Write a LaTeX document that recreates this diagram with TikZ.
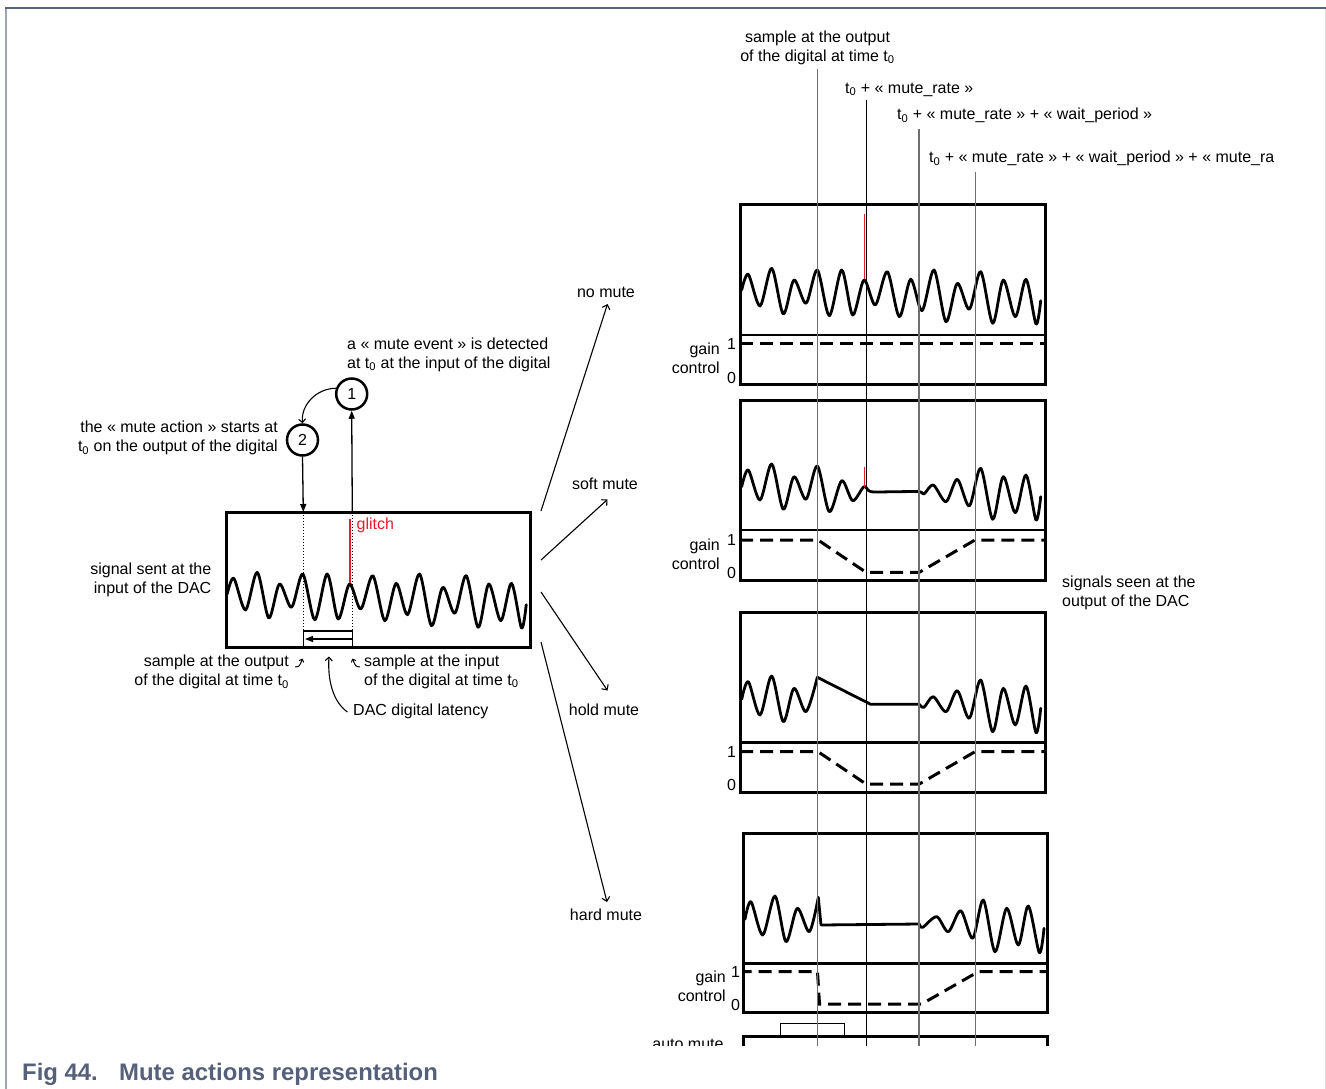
\documentclass[tikz,border=0pt]{standalone}
\usepackage{fontspec}
\setmainfont{Liberation Sans}
\usetikzlibrary{arrows.meta}
\definecolor{capblue}{RGB}{85,97,122}
\definecolor{frametop}{RGB}{86,100,127}
\definecolor{frameleft}{RGB}{155,165,182}
\definecolor{frameright}{RGB}{220,220,220}
\definecolor{glitchred}{RGB}{230,30,40}
\definecolor{tgray}{RGB}{110,110,110}
\begin{document}
\begin{tikzpicture}[x=1pt,y=-1pt,
  txt/.style={inner sep=0pt, font=\fontsize{16}{19}\selectfont},
  boxline/.style={line width=3pt},
  sig/.style={line width=2.8pt, line join=round, line cap=round},
  gainline/.style={line width=3pt, dash pattern=on 13pt off 7pt},
  branch/.style={line width=1.1pt, -{Straight Barb[length=4pt,width=8pt]}},
  bigtip/.style={line width=1.3pt, -{Triangle[length=8pt,width=6pt]}},
  smalltip/.style={line width=1pt, -{Straight Barb[length=2.5pt,width=5pt]}},
  tline/.style={line width=1.3pt},
  numc/.style={circle, draw, line width=2.5pt, minimum size=31pt, inner sep=0pt, font=\fontsize{16}{19}\selectfont},
]
\useasboundingbox (0,0) rectangle (1326,1089);
\fill[white] (0,0) rectangle (1326,1089);
% page frame
\draw[frameright, line width=1pt] (1325.5,8) -- (1325.5,1089);
\draw[frameleft, line width=2.2pt] (6,8) -- (6,1089);
\draw[frametop, line width=1.8pt] (5,8) -- (1326,8);
% caption
\node[anchor=base west, inner sep=0pt, text=capblue, font=\fontsize{23.9}{28}\selectfont\bfseries] (cap) at (22,1080) {\makebox[97pt][l]{Fig 44.}Mute actions representation};

% ---------------- left part ----------------
\draw[boxline] (226,512) rectangle (530.5,647);
\begin{scope}[shift={(225.5,599)}]
\draw[sig] plot[smooth] coordinates {(1.7,-5) (8.3,-20.7) (20,11) (31.7,-26.7) (43.3,19) (54,-15) (66,8.3) (77.3,-25) (89.3,20.7) (101.7,-25) (112.7,20) (124,-15) (135.3,10) (147.3,-23.3) (159.3,21.7) (170.7,-15.7) (182,15.7) (194,-25) (206,26.7) (217.3,-11.7) (229.3,14.3) (240.7,-23.3) (252.7,28.3) (263.3,-15) (275.3,21.7) (286,-15.7) (296,29) (300.7,5.7)};
\end{scope}
\coordinate (outTop) at (303.3,512);
\coordinate (outBot) at (303.3,647);
\coordinate (inTop) at (352.3,512);
\coordinate (inBot) at (352.3,647);
\draw[line width=1pt, dotted] (outTop) -- (outBot);
\draw[line width=1pt, dotted] (inTop) -- (inBot);
\draw[glitchred, line width=1.8pt] (349.7,519) -- (349.7,583);
\node[txt, anchor=west, text=glitchred] (glitch) at (356.5,525) {glitch};
% latency box
\draw[line width=1.3pt] (303.3,631) rectangle (352.3,647);
\coordinate (latR) at (352,639);
\coordinate (latL) at (305,639);
\draw[bigtip] (latR) -- (latL);
% circles
\node[numc] (c1) at (351.7,394) {1};
\node[numc] (c2) at (302.5,440) {2};
\draw[bigtip] (inTop) -- (c1.south);
\draw[bigtip] (c2.south) -- (outTop);
\draw[smalltip, line width=1.1pt, -{Straight Barb[length=3.5pt,width=7pt]}] (c1.160) to[out=180,in=95] (c2.north);
% texts
\node[txt, anchor=west, align=left] (evt) at (347,354.5) {a « mute event » is detected\\at t\textsubscript{0} at the input of the digital};
\node[txt, anchor=east, align=right] (act) at (278,438) {the « mute action » starts at\\t\textsubscript{0} on the output of the digital};
\node[txt, anchor=east, align=right] (sent) at (211.5,579.5) {signal sent at the\\input of the DAC};
\node[txt, anchor=east, align=right] (sout) at (289,672) {sample at the output\\of the digital at time t\textsubscript{0}};
\node[txt, anchor=west, align=left] (sin) at (364,671.5) {sample at the input\\of the digital at time t\textsubscript{0}};
\node[txt, anchor=west] (lat) at (353,711) {DAC digital latency};
\coordinate (soA) at (295,667);
\coordinate (soB) at (302.5,658.5);
\draw[smalltip] (soA) .. controls (299.5,666.5) .. (soB);
\coordinate (siA) at (360,667);
\coordinate (siB) at (352.5,658.5);
\draw[smalltip] (siA) .. controls (355.5,666.5) .. (siB);
\coordinate (latS) at (347.5,712);
\coordinate (latE) at (329,656.5);
\draw[line width=1.1pt, -{Straight Barb[length=3.5pt,width=7pt]}] (latS) .. controls (333,702) and (327.5,680) .. (latE);

% branches
\node[txt] (nomute) at (606,292) {no mute};
\node[txt] (softmute) at (605,484) {soft mute};
\node[txt] (holdmute) at (604,710) {hold mute};
\node[txt] (hardmute) at (606,915) {hard mute};
\coordinate (bNo) at (541,511);   \coordinate (tNo) at (607.5,304);
\coordinate (bSoft) at (541,560); \coordinate (tSoft) at (607.5,499.5);
\coordinate (bHold) at (541,592); \coordinate (tHold) at (607.5,690.5);
\coordinate (bHard) at (541,642); \coordinate (tHard) at (607,902);
\draw[branch] (bNo) -- (tNo);
\draw[branch] (bSoft) -- (tSoft);
\draw[branch] (bHold) -- (tHold);
\draw[branch] (bHard) -- (tHard);

% ---------------- right panels ----------------
% panel 1 : no mute
\draw[boxline] (740,204) rectangle (1045,384);
\draw[line width=2.5pt] (740,335) -- (1045,335);
\begin{scope}[shift={(740,295)}]
\draw[sig] plot[smooth] coordinates {(1.7,-5) (8.3,-20.7) (20,11) (31.7,-26.7) (43.3,19) (54,-15) (66,8.3) (77.3,-25) (89.3,20.7) (101.7,-25) (112.7,20) (124,-15) (135.3,10) (147.3,-23.3) (159.3,21.7) (170.7,-15.7) (182,15.7) (194,-25) (206,26.7) (217.3,-11.7) (229.3,14.3) (240.7,-23.3) (252.7,28.3) (263.3,-15) (275.3,21.7) (286,-15.7) (296,29) (300.7,5.7)};
\end{scope}
\draw[glitchred, line width=1pt] (864,214) -- (864,279);
\draw[gainline] (740,343.5) -- (1045,343.5);
\node[txt, anchor=east, align=right] (g1) at (720,358.5) {gain\\control};
\node[txt] (g1one) at (731.5,343.5) {1};
\node[txt] (g1zero) at (731.5,377.5) {0};

% panel 2 : soft mute
\draw[boxline] (740,400.7) rectangle (1045,580);
\draw[line width=2.5pt] (740,530) -- (1045,530);
\begin{scope}[shift={(740,491.7)}]
\draw[sig] plot[smooth] coordinates {(1.7,-5) (8.3,-21.7) (20,8.3) (31.7,-27.7) (43.3,17.6) (54,-15) (66,7.6) (77.3,-25.7) (89.3,20) (101.7,-11) (112.7,9) (124,-5) (131,0) (155,0) (179.3,0) (184,2.3) (193.3,-6.7) (206,10) (217.3,-12.4) (229.3,14.3) (240.7,-23.4) (252.7,27.6) (263.3,-15) (275.3,21) (286,-16.7) (296,28.3) (300.7,5)};
\end{scope}
\draw[glitchred, line width=1pt] (864,467) -- (864,487);
\draw[gainline] (740,540) -- (818,540) -- (866,572.3) -- (919.3,572.3) -- (975,540) -- (1045,540);
\node[txt, anchor=east, align=right] (g2) at (720,554.5) {gain\\control};
\node[txt] (g2one) at (731.5,539.5) {1};
\node[txt] (g2zero) at (731.5,573) {0};

% panel 3 : hold mute
\draw[boxline] (740,612.7) rectangle (1045,792.3);
\draw[line width=2.5pt] (740,742.7) -- (1045,742.7);
\begin{scope}[shift={(740,704)}]
\draw[sig] plot[smooth] coordinates {(1.7,-4.7) (8.3,-22.3) (20,11) (31.7,-28) (43.3,17.7) (54,-15.7) (66,7.7) (77.3,-26.7)} -- (130.7,0.3) -- plot[smooth] coordinates {(179.3,0.3) (184,3.3) (193.3,-7.3) (206,7.7) (217.3,-13.3) (229.3,14.3) (240.7,-24) (252.7,27.7) (263.3,-15.7) (275.3,21) (286,-18) (296,28.7) (300.7,4.3)};
\end{scope}
\draw[gainline] (740,751.7) -- (818,751.7) -- (866,784) -- (919.3,784) -- (975,751.7) -- (1045,751.7);
\node[txt] (g3one) at (731.5,752) {1};
\node[txt] (g3zero) at (731.5,785) {0};

% panel 4 : hard mute
\draw[boxline] (743,833.3) rectangle (1047.3,1012.3);
\draw[line width=2.5pt] (743,963.3) -- (1047.3,963.3);
\draw[sig] plot[smooth] coordinates {(745,919.3) (751,901.7) (762.7,935) (775,896) (786,941.7) (797.3,908.3) (809.3,931.7) (818.3,897.3)} -- (821,925) -- plot[smooth] coordinates {(919.3,924) (922.7,927.3) (936.7,916.7) (948.3,931.7) (960.7,910.7) (972.7,938.3) (983.3,900) (995,951.7) (1006.7,908.3) (1018.3,945) (1028.3,906) (1039.3,952.7) (1044,928.3)};
\draw[gainline, dash phase=4.5pt] (743,971.7) -- (817.5,971.7) -- (819.5,1004) -- (921.7,1004) -- (978.3,971.7) -- (1047.3,971.7);
\node[txt, anchor=east, align=right] (g4) at (726,986.5) {gain\\control};
\node[txt] (g4one) at (735.5,971.5) {1};
\node[txt] (g4zero) at (735.5,1004.5) {0};

\node[txt, anchor=west, align=left] (seen) at (1062,593) {signals seen at the\\output of the DAC};

% top labels
\node[txt, align=center] (lab1) at (817.5,47.5) {sample at the output\\of the digital at time t\textsubscript{0}};
\node[txt, anchor=west] (lab2) at (845,89.5) {t\textsubscript{0} + « mute\_rate »};
\node[txt, anchor=west] (lab3) at (897,115.5) {t\textsubscript{0} + « mute\_rate » + « wait\_period »};
\node[txt, anchor=west] (lab4) at (929,158.5) {t\textsubscript{0} + « mute\_rate » + « wait\_period » + « mute\_ra};

% clipped bottom part
\begin{scope}
\clip (0,0) rectangle (1326,1045.5);
\draw[boxline] (743,1060) -- (743,1036.7) -- (1047.3,1036.7) -- (1047.3,1060);
\draw[line width=1.2pt] (780.7,1023.3) rectangle (844.3,1036.7);
\node[txt, anchor=base] (auto) at (688,1049) {auto mute};
\coordinate (L1t) at (817.5,69);  \coordinate (L1b) at (817.5,1050);
\coordinate (L2t) at (866.8,100); \coordinate (L2b) at (866.8,1050);
\coordinate (L3t) at (919,129);   \coordinate (L3b) at (919,1050);
\coordinate (L4t) at (975.5,172); \coordinate (L4b) at (975.5,1050);
\draw[tline, tgray] (L1t) -- (L1b);
\draw[tline, black] (L2t) -- (L2b);
\draw[tline, tgray] (L3t) -- (L3b);
\draw[tline, tgray] (L4t) -- (L4b);
\end{scope}
\end{tikzpicture}
\end{document}
